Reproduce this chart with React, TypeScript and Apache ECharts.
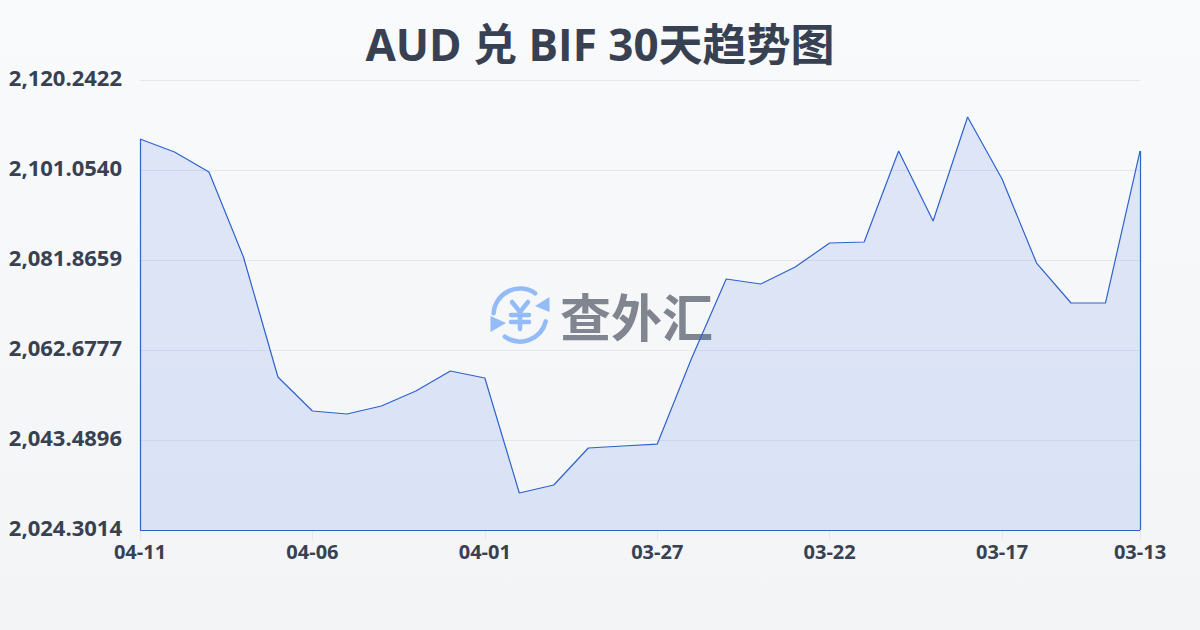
import React, { useEffect, useRef } from "react";
import * as echarts from "echarts";

const titleText = "AUD 兑 BIF 30天趋势图";
const watermarkText = "查外汇";
const dates = [
  "04-11", "04-10", "04-09", "04-08", "04-07", "04-06", "04-05", "04-04", "04-03", "04-02",
  "04-01", "03-31", "03-30", "03-29", "03-28", "03-27", "03-26", "03-25", "03-24", "03-23",
  "03-22", "03-21", "03-20", "03-19", "03-18", "03-17", "03-16", "03-15", "03-14", "03-13",
];
const rates = [
  2107.66, 2104.89, 2100.63, 2082.5, 2056.92, 2049.67, 2049.03, 2050.74, 2053.93, 2058.2,
  2056.71, 2032.19, 2033.89, 2041.78, 2042.21, 2042.63, 2060.97, 2077.81, 2076.75, 2080.37,
  2085.49, 2085.7, 2105.1, 2090.18, 2112.35, 2099.13, 2081.22, 2072.7, 2072.7, 2105.1,
];
const yTicks = [2024.3014, 2043.4896, 2062.6777, 2081.8659, 2101.054, 2120.2422];

const FONT = '"Open Sans", "Noto Sans", "Noto Sans CJK SC", sans-serif';
const CJK = '"Open Sans", "Noto Sans CJK SC", sans-serif';
const WM = '"Noto Sans CJK SC", sans-serif';
const INK = "#374151";
const LINE = "#2f62cc";
const ICON = "#93bbf7";

const showTick = (i: number) => i % 5 === 0 || i === dates.length - 1;

export default function App() {
  const ref = useRef<HTMLDivElement>(null);

  useEffect(() => {
    const chart = echarts.init(ref.current!, undefined, { renderer: "svg" });
    const yMin = yTicks[0];
    const yMax = yTicks[yTicks.length - 1];
    const last = dates.length - 1;
    const iconStroke = { stroke: ICON, lineWidth: 4.5, lineCap: "round", fill: "none" };

    chart.setOption({
      animation: false,
      backgroundColor: {
        type: "linear", x: 0, y: 0, x2: 0, y2: 1,
        colorStops: [
          { offset: 0, color: "#f9fafc" },
          { offset: 1, color: "#f3f4f6" },
        ],
      },
      title: {
        text: titleText,
        left: "center",
        top: 17,
        textStyle: { color: INK, fontFamily: CJK, fontSize: 44, fontWeight: "bold" },
      },
      grid: { left: 140, right: 60, top: 80, bottom: 100 },
      xAxis: {
        type: "category",
        data: dates,
        boundaryGap: false,
        axisLine: { show: false },
        axisTick: { show: true, length: 10, interval: (i: number) => showTick(i), lineStyle: { color: "#e5e7eb" } },
        axisLabel: {
          interval: (i: number) => showTick(i),
          color: INK,
          fontFamily: FONT,
          fontSize: 20,
          fontWeight: "bold",
          margin: 11,
          hideOverlap: false,
        },
        splitLine: { show: false },
      },
      yAxis: {
        type: "value",
        min: yMin,
        max: yMax,
        axisLine: { show: false },
        axisTick: { show: false, customValues: yTicks },
        axisLabel: {
          customValues: yTicks,
          color: INK,
          fontFamily: FONT,
          fontSize: 22,
          fontWeight: "bold",
          margin: 18,
          verticalAlign: "bottom",
          lineHeight: 6,
          formatter: (v: number) =>
            v.toLocaleString("en-US", { minimumFractionDigits: 4, maximumFractionDigits: 4 }),
        },
        splitLine: { show: true, lineStyle: { color: "#e5e7eb", width: 1 } },
      },
      graphic: [
        { type: "arc", z: -1, shape: { cx: 520, cy: 315, r: 26.5, startAngle: Math.PI * 1.02, endAngle: (305 * Math.PI) / 180 }, style: iconStroke },
        { type: "arc", z: -1, shape: { cx: 520, cy: 315, r: 26.5, startAngle: (14 * Math.PI) / 180, endAngle: (125 * Math.PI) / 180 }, style: iconStroke },
        { type: "polygon", z: -1, shape: { points: [[549.5, 297], [549.5, 312], [535, 306]] }, style: { fill: ICON } },
        { type: "polygon", z: -1, shape: { points: [[490.5, 316], [506, 323], [490.5, 332]] }, style: { fill: ICON } },
        { type: "polyline", z: -1, shape: { points: [[512, 302], [520, 312], [528, 302]] }, style: iconStroke },
        { type: "line", z: -1, shape: { x1: 511, y1: 315, x2: 529, y2: 315 }, style: iconStroke },
        { type: "line", z: -1, shape: { x1: 511, y1: 322, x2: 529, y2: 322 }, style: iconStroke },
        { type: "line", z: -1, shape: { x1: 520, y1: 312, x2: 520, y2: 329 }, style: iconStroke },
        {
          type: "text",
          z: -1,
          x: 560,
          y: 315,
          style: {
            text: watermarkText,
            fill: "#808590",
            font: `bold 51px ${WM}`,
            textAlign: "left",
            textVerticalAlign: "middle",
          },
        },
      ],
      series: [
        {
          type: "line",
          z: 3,
          data: rates,
          symbol: "none",
          smooth: false,
          lineStyle: { color: LINE, width: 1.2 },
          areaStyle: { color: "rgba(37,99,235,0.18)", origin: "start" },
          markLine: {
            silent: true,
            symbol: "none",
            label: { show: false },
            lineStyle: { color: LINE, width: 1.2, type: "solid" },
            data: [
              [{ xAxis: dates[0], yAxis: yMin }, { xAxis: dates[0], yAxis: rates[0] }],
              [{ xAxis: dates[last], yAxis: yMin }, { xAxis: dates[last], yAxis: rates[last] }],
              [{ xAxis: dates[0], yAxis: yMin }, { xAxis: dates[last], yAxis: yMin }],
            ],
          },
        },
      ],
    });
    return () => chart.dispose();
  }, []);

  return <div ref={ref} style={{ position: "absolute", left: 0, top: 0, width: 1200, height: 630 }} />;
}
